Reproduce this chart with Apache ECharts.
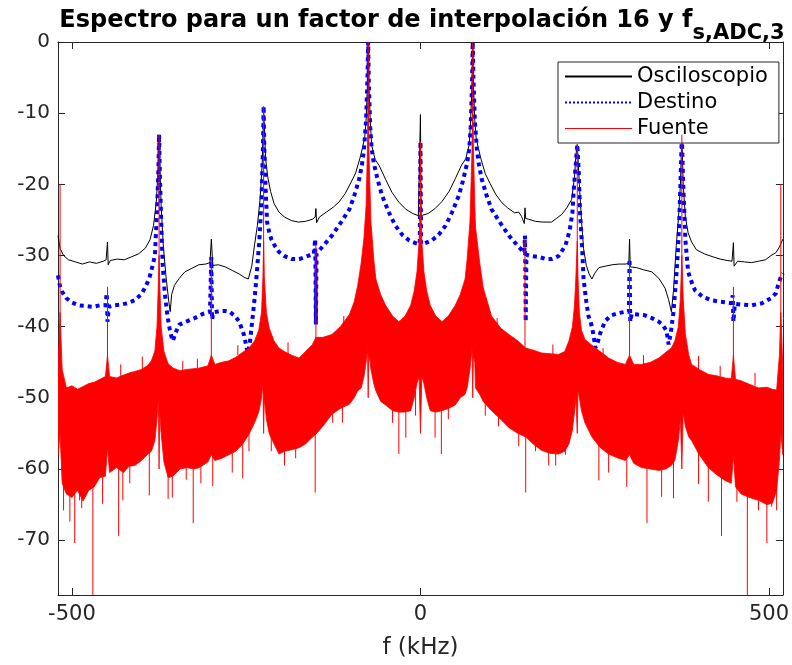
<!DOCTYPE html>
<html>
<head>
<meta charset="utf-8">
<script src="https://cdn.jsdelivr.net/npm/echarts@6/dist/echarts.min.js"></script>
<style>html,body{margin:0;padding:0;background:#fff;}#c{width:792px;height:665px;}</style>
</head>
<body>
<div id="c"></div>
<script>
// ---------- DATA ----------
const xTicks = [-500, 0, 500];
const yTicks = [0, -10, -20, -30, -40, -50, -60, -70];

// Osciloscopio (black): frequency (kHz) and level (dB)
const oscX = [-520,-517,-512,-505,-495,-485,-475,-465,-455,-451,-449,-448,-445,-435,-425,-415,-405,-395,-388,-383,-379,-377,-375,-372,-369,-365,-361,-359,-357,-353,-346,-338,-328,-318,-308,-302,-300,-298,-290,-280,-270,-260,-252,-247,-242,-238,-234,-230,-227,-225,-222,-219,-215,-210,-203,-195,-185,-175,-165,-155,-151,-150,-149,-145,-135,-125,-117,-108,-100,-93,-87,-83,-80,-78,-76,-75,-74,-72,-70,-65,-59,-50,-41,-31,-21,-11,-3,-1,0,1,3,11,21,31,41,50,59,65,70,72,74,75,76,78,80,83,87,93,100,108,117,125,135,141,145,149,150,151,155,165,175,188,195,203,210,217,221,223,225,228,231,234,238,242,246,250,256,265,275,285,295,299,300,301,310,320,332,342,351,356,360,363,367,370,373,375,377,380,384,389,396,408,420,430,440,447,449,450,455,465,475,485,495,503,510,515,520];
const oscY = [-27.2,-29.0,-30.0,-30.6,-30.9,-31.2,-30.9,-31.1,-30.8,-30.6,-28.1,-31.3,-30.7,-30.5,-30.6,-30.2,-29.8,-29.0,-27.8,-25.8,-22.5,-19.0,-14.0,-23.0,-28.5,-33.0,-36.5,-37.9,-35.5,-34.2,-33.2,-32.3,-31.8,-31.3,-31.2,-31.0,-27.7,-31.4,-31.3,-31.6,-32.1,-32.6,-33.1,-33.3,-31.5,-28.5,-25.8,-22.0,-17.0,-9.5,-16.5,-19.0,-21.0,-22.7,-23.9,-24.6,-25.1,-25.3,-25.2,-24.9,-24.6,-23.4,-25.4,-24.6,-23.9,-23.2,-22.5,-21.3,-19.8,-18.4,-16.4,-14.8,-13.4,-11.0,-6.0,0,-6.0,-11.0,-14.5,-16.5,-17.4,-19.3,-21.1,-22.5,-23.5,-24.1,-24.4,-24.4,-10.2,-24.4,-24.4,-24.1,-23.4,-22.4,-21.0,-19.2,-17.3,-16.4,-14.4,-11.0,-6.0,0,-6.0,-11.0,-13.5,-14.9,-16.5,-18.5,-19.9,-21.4,-22.6,-23.3,-24.0,-23.9,-24.5,-25.5,-23.3,-24.8,-24.9,-25.2,-25.3,-25.3,-24.8,-24.2,-23.3,-22.1,-19.0,-16.0,-14.4,-20.0,-25.0,-29.0,-31.4,-32.6,-33.3,-32.5,-31.7,-31.5,-31.3,-31.2,-31.2,-31.0,-27.7,-31.6,-31.7,-32.0,-32.3,-33.2,-34.6,-36.2,-37.9,-35.0,-28.6,-25.0,-20.0,-13.0,-20.0,-24.5,-26.8,-28.1,-29.2,-29.8,-30.2,-30.5,-30.7,-30.8,-28.2,-31.5,-30.8,-30.9,-31.0,-30.8,-30.6,-30.0,-29.6,-28.8,-27.7];

// Destino (blue dotted)
const dstX = [-520,-518,-514,-508,-500,-490,-480,-470,-460,-452,-450,-449,-447,-440,-430,-420,-410,-400,-394,-389,-384,-381,-378,-376,-375,-374,-372,-370,-367,-363,-360,-357,-355,-352,-346,-336,-324,-312,-302,-300,-299,-297,-288,-280,-274,-266,-260,-253,-248,-245,-243,-240,-237,-234,-231,-228,-226,-225,-224,-222,-220,-217,-214,-208,-203,-195,-185,-174,-165,-160,-153,-151,-150,-149,-140,-127,-115,-102,-95,-88,-84,-81,-78,-76,-75,-74,-72,-70,-67,-61,-55,-45,-36,-26,-16,-6,-1,0,1,6,16,26,36,45,55,61,67,70,72,74,75,76,78,81,84,88,95,102,115,127,140,149,150,151,152,160,170,180,188,198,208,214,218,220,223,225,227,229,232,234,238,241,244,248,251,254,258,265,274,284,294,299,300,301,303,312,322,332,342,348,353,356,359,363,367,369,371,373,375,377,379,380,384,390,394,405,418,430,440,446,448,449,451,460,475,490,503,510,513,516,518,520];
const dstY = [-32.8,-34.0,-35.1,-36.0,-36.6,-37.0,-37.1,-37.2,-37.0,-37.0,-35.3,-39.3,-37.2,-37.0,-36.9,-36.7,-36.3,-35.4,-34.3,-33.2,-31.3,-30.0,-24.0,-18.0,-13.0,-18.0,-25.0,-31.0,-35.1,-38.5,-40.2,-41.5,-42.0,-41.0,-39.7,-39.3,-38.8,-38.2,-37.9,-30.2,-39.0,-38.0,-37.8,-37.8,-37.9,-38.5,-39.3,-41.2,-43.7,-42.5,-40.7,-38.0,-35.1,-31.5,-27.7,-22.0,-15.0,-9.0,-15.0,-21.0,-25.3,-26.7,-27.7,-28.8,-29.5,-30.1,-30.5,-30.5,-30.2,-30.0,-29.8,-27.7,-39.7,-29.7,-28.7,-27.2,-25.5,-23.5,-21.6,-19.3,-17.3,-15.1,-11.0,-5.0,0,-6.0,-12.0,-15.0,-17.0,-19.5,-21.6,-24.0,-25.8,-27.1,-27.9,-28.3,-28.4,-14.0,-28.4,-28.3,-27.9,-27.1,-25.8,-24.0,-21.6,-19.5,-17.0,-15.0,-12.0,-6.0,0,-5.0,-11.0,-15.1,-17.3,-19.3,-21.6,-23.5,-25.5,-27.2,-28.7,-29.6,-27.2,-39.3,-29.9,-30.1,-30.2,-30.5,-30.5,-30.1,-28.6,-26.5,-24.0,-20.7,-17.0,-14.4,-18.0,-24.0,-29.0,-33.3,-36.5,-38.5,-39.2,-41.0,-43.0,-42.3,-40.9,-39.2,-38.4,-38.1,-37.9,-37.9,-30.5,-39.3,-38.2,-38.3,-38.4,-38.8,-39.3,-39.8,-40.6,-42.5,-41.0,-37.9,-33.0,-30.0,-26.0,-20.0,-13.0,-20.0,-25.0,-27.7,-32.3,-34.0,-34.9,-35.8,-36.3,-36.5,-36.6,-36.7,-35.6,-39.3,-36.8,-36.9,-37.0,-36.7,-36.0,-35.3,-34.2,-33.3,-32.8,-32.5];

// Fuente (red): noise band read as upper / lower envelope
const srcX = [-520,-517,-514,-508,-500,-492,-484,-476,-468,-460,-452,-449,-446,-436,-426,-418,-410,-400,-392,-386,-381,-378,-376,-375,-374,-372,-368,-362,-355,-345,-335,-325,-317,-305,-300,-295,-285,-275,-265,-255,-246,-238,-232,-228,-226,-225,-224,-221,-217,-210,-203,-195,-185,-174,-165,-155,-150,-140,-127,-115,-102,-95,-90,-85,-81,-78,-76,-75,-74,-72,-71,-67,-64,-57,-50,-40,-31,-22,-14,-9,-5,-2,0,2,5,9,14,22,31,40,50,57,64,67,71,72,74,75,76,78,79,85,90,102,115,127,140,151,162,174,186,198,207,213,218,221,223,225,226,228,231,236,246,258,270,282,294,300,306,317,330,342,352,360,365,370,373,375,377,380,385,389,400,413,425,437,446,449,452,460,472,485,497,505,511,515,517,520];
const srcUpper = [-46,-38,-46,-48.6,-48.3,-48.8,-48.4,-48.0,-47.8,-47.4,-47.0,-44,-47.0,-47.2,-46.8,-46.5,-46.3,-46.0,-45.5,-44.8,-43.4,-40,-34,-30,-34,-40,-43.5,-45.2,-45.8,-46.2,-46.0,-45.9,-45.8,-45.5,-44,-45.3,-45.0,-44.8,-44.3,-43.6,-43.0,-42,-40.5,-38,-33,-28,-33,-38,-40.2,-42,-43,-43.5,-44,-44.4,-43.5,-42.5,-41.5,-41.5,-41.1,-40,-38.3,-36.5,-34.2,-31,-27.5,-23,-15,-8,-15,-22,-25.3,-30.5,-33.3,-35.5,-37,-38.5,-39.3,-38.5,-37,-35,-32.3,-28,-22,-28,-32.3,-35,-37,-38.5,-39.3,-38.5,-37,-35.5,-33.3,-30.5,-25.3,-22,-15,-8,-15,-23,-26,-31,-34.5,-38.5,-40.2,-41.1,-42,-43,-43.3,-43.7,-43.8,-43.9,-43.5,-42,-40,-37,-33,-28,-33,-38,-40.5,-41.8,-42.6,-43.5,-44.4,-45,-45.3,-44,-45.3,-45.3,-45,-44.4,-43.6,-43,-42,-40,-36,-30,-36,-41,-44,-45.3,-46,-46.7,-46.9,-47.2,-47.3,-44,-47.4,-47.6,-48.1,-48.6,-48.5,-48.8,-48.9,-44,-38,-46];
const srcLower = [-58,-55,-62,-63.5,-64,-63,-64.5,-63,-62.5,-61.2,-61,-57,-60.5,-59.8,-60.5,-59.6,-59.5,-58.8,-58,-57.5,-56,-53,-50,-60,-52,-55,-59,-61.2,-61,-60,-59.8,-60,-59.8,-59,-58,-58.8,-58.5,-58,-57.5,-56.5,-55.1,-53.5,-52,-50,-48,-55,-50,-53,-55,-56.5,-57.9,-57.5,-57.3,-57,-56.5,-55.5,-55.1,-54,-52.3,-51.5,-50.9,-50,-49,-48.6,-47,-45,-43,-50,-44,-45,-46,-48,-49,-50.5,-51,-51.8,-52,-52,-51.8,-50,-48,-47,-55,-47,-48,-50,-51.8,-52,-51.8,-51.5,-51,-50,-49.5,-48.6,-46,-45,-43,-50,-44,-45,-48.6,-49.5,-50.5,-51.8,-53,-54.2,-55,-55.5,-56.5,-57.4,-57.8,-57.9,-57.5,-56.5,-54.5,-52,-50,-55,-49,-50,-51.8,-53.5,-55.5,-57,-57.9,-58.4,-58.8,-58,-59.2,-59.8,-60,-60.2,-60,-59.5,-58.8,-56,-53,-60,-52,-54,-55.5,-56,-58,-59.8,-60.8,-61.6,-62,-58,-62.5,-63.5,-64,-64.4,-65,-64.8,-63,-58.8,-55,-58];

// Fuente: narrow upward spectral lines (frequency, foot, top)
const lineX    = [-517,-449,-430,-399,-375,-341,-320,-300,-262,-225,-190,-150,-110,-75,0,75,110,150,190,225,262,300,320,375,399,430,449,480,517];
const lineFoot = [-46,-47,-47.2,-46.5,-40,-46.2,-45.8,-45,-44,-38,-44,-42,-40,-20,-30,-20,-40,-43,-44,-38,-44,-44,-45.3,-40,-46,-47,-47,-48.3,-46];
const lineTop  = [-20,-34.4,-45.3,-44.2,-13,-44.8,-44.5,-30.2,-42.6,-9,-42.2,-28.6,-38.5,0,-14,0,-38.8,-27.7,-42.5,-14.4,-43,-30.5,-44,-13,-44.1,-45.5,-34.4,-46.5,-20];

// Fuente: deep downward needles (frequency, start, bottom)
const dipX      = [-512,-503,-496,-489,-486,-470,-456,-433,-427,-417,-389,-362,-356,-336,-326,-315,-298,-270,-255,-246,-214,-195,-179,-151,-126,-112,-40,-31,-21,-7,21,30,40,93,112,141,151,165,184,194,208,256,270,296,325,346,363,399,413,432,454,469,485,497,504,511];
const dipStart  = [-62,-63,-63.5,-61.5,-63,-62,-60,-58.5,-59,-58,-57,-60,-60,-58.5,-58.5,-58.5,-57.5,-56.5,-55.5,-54,-55,-56,-56,-54,-51,-50,-51,-51,-51,-49,-51,-51,-51,-50,-52,-54,-54,-55.5,-56.5,-56.5,-56,-56,-57,-57.5,-58.5,-59,-58,-57,-58.5,-60.5,-61,-62.5,-63,-63.5,-63.5,-62];
const dipBottom = [-65.8,-67.4,-70.4,-64.4,-65.5,-78,-64.9,-69.4,-64.4,-62,-63.7,-64.2,-64,-61.5,-67.6,-62,-62.4,-60.5,-61.3,-57.5,-57.5,-59.5,-58.5,-63.3,-53.5,-53.5,-53.5,-57.9,-55.6,-52.5,-55.6,-57.9,-53,-52.5,-54,-56.8,-63.3,-57.5,-59.5,-59.5,-58,-61.6,-60.5,-62.5,-67.6,-63.9,-64.1,-62.1,-64.6,-69.4,-64.6,-78,-65.8,-70.4,-65.3,-65.8];

// ---------- BUILD ----------
const zip = (a, b) => a.map((v, i) => [v, b[i]]);
const oscData = zip(oscX, oscY);
const dstData = zip(dstX, dstY);
const bandData = srcX.map((x, i) => [x, srcUpper[i], srcLower[i]]);
const needleData = [];
lineX.forEach((x, i) => { needleData.push([x, lineFoot[i]], [x, lineTop[i]], '-'); });
dipX.forEach((x, i) => { needleData.push([x, dipStart[i]], [x, dipBottom[i]], '-'); });

const FONT = 'DejaVu Sans';
const AX = '#262626';
const RED = '#ff0000';

function renderBand(params, api) {
  if (params.dataIndex !== 0) return null;
  const pts = [];
  for (let i = 0; i < srcX.length; i++) pts.push(api.coord([srcX[i], srcUpper[i]]));
  for (let i = srcX.length - 1; i >= 0; i--) pts.push(api.coord([srcX[i], srcLower[i]]));
  return {type: 'polygon', shape: {points: pts},
          style: {fill: RED, stroke: RED, lineWidth: 0.8}};
}

const chart = echarts.init(document.getElementById('c'), null, {renderer: 'canvas'});
chart.setOption({
  animation: false,
  backgroundColor: '#ffffff',
  title: {
    text: '{a|Espectro para un factor de interpolación 16 y f}{b|s,ADC,3}',
    left: 417, textAlign: 'center', top: 4,
    textStyle: {
      rich: {
        a: {fontFamily: FONT, fontWeight: 'bold', fontSize: 24, color: '#000', lineHeight: 32, verticalAlign: 'top'},
        b: {fontFamily: FONT, fontWeight: 'bold', fontSize: 21, color: '#000', lineHeight: 32, verticalAlign: 'top', padding: [14, 0, 0, 0]}
      }
    }
  },
  legend: {
    data: [
      {name: 'Osciloscopio', itemStyle: {opacity: 0}},
      {name: 'Destino', itemStyle: {opacity: 0}},
      {name: 'Fuente', icon: 'path://M0,0H67V1H0Z', itemStyle: {color: RED, opacity: 1}}
    ],
    orient: 'vertical', left: 558, top: 62,
    itemWidth: 67, itemHeight: 12, itemGap: 5,
    padding: [4, 11, 4, 6],
    symbolKeepAspect: true,
    backgroundColor: '#fff', borderColor: AX, borderWidth: 1,
    textStyle: {fontFamily: FONT, fontSize: 21, lineHeight: 21, color: '#000'}
  },
  grid: {left: 58, right: 8, top: 42, bottom: 67, containLabel: false},
  xAxis: [
    {type: 'value', min: -520, max: 520, position: 'bottom',
     name: 'f (kHz)', nameLocation: 'middle', nameGap: 42,
     nameTextStyle: {fontFamily: FONT, fontSize: 23, color: AX},
     axisLine: {show: true, onZero: false, lineStyle: {color: AX, width: 1}},
     axisTick: {show: true, inside: true, length: 7, customValues: xTicks, lineStyle: {color: AX}},
     axisLabel: {customValues: xTicks, fontFamily: FONT, fontSize: 21, color: AX, margin: 9},
     splitLine: {show: false}},
    {type: 'value', min: -520, max: 520, position: 'top',
     axisLine: {show: true, onZero: false, lineStyle: {color: AX, width: 1}},
     axisTick: {show: true, inside: true, length: 7, customValues: xTicks, lineStyle: {color: AX}},
     axisLabel: {show: false}, splitLine: {show: false}}
  ],
  yAxis: [
    {type: 'value', min: -77.7, max: 0, position: 'left',
     axisLine: {show: true, onZero: false, lineStyle: {color: AX, width: 1}},
     axisTick: {show: true, inside: true, length: 7, customValues: yTicks, lineStyle: {color: AX}},
     axisLabel: {customValues: yTicks, fontFamily: FONT, fontSize: 20, color: AX, margin: 8},
     splitLine: {show: false}},
    {type: 'value', min: -77.7, max: 0, position: 'right',
     axisLine: {show: true, onZero: false, lineStyle: {color: AX, width: 1}},
     axisTick: {show: true, inside: true, length: 7, customValues: yTicks, lineStyle: {color: AX}},
     axisLabel: {show: false}, splitLine: {show: false}}
  ],
  series: [
    {name: 'Osciloscopio', type: 'line', data: oscData, symbol: 'none', z: 2,
     lineStyle: {color: '#000', width: 1}, itemStyle: {color: '#000'}},
    {name: 'Destino', type: 'line', data: dstData, symbol: 'none', z: 3,
     lineStyle: {color: '#0000ff', width: 4, type: 'dotted', cap: 'butt'}, itemStyle: {color: '#0000ff'}},
    {name: 'FuenteBand', type: 'custom', data: bandData, z: 4, clip: true,
     encode: {x: 0, y: [1, 2]}, renderItem: renderBand, itemStyle: {color: RED}},
    {name: 'Fuente', type: 'line', data: needleData, symbol: 'none', z: 5, connectNulls: false,
     lineStyle: {color: RED, width: 1}, itemStyle: {color: RED}}
  ]
});
</script>
</body>
</html>
